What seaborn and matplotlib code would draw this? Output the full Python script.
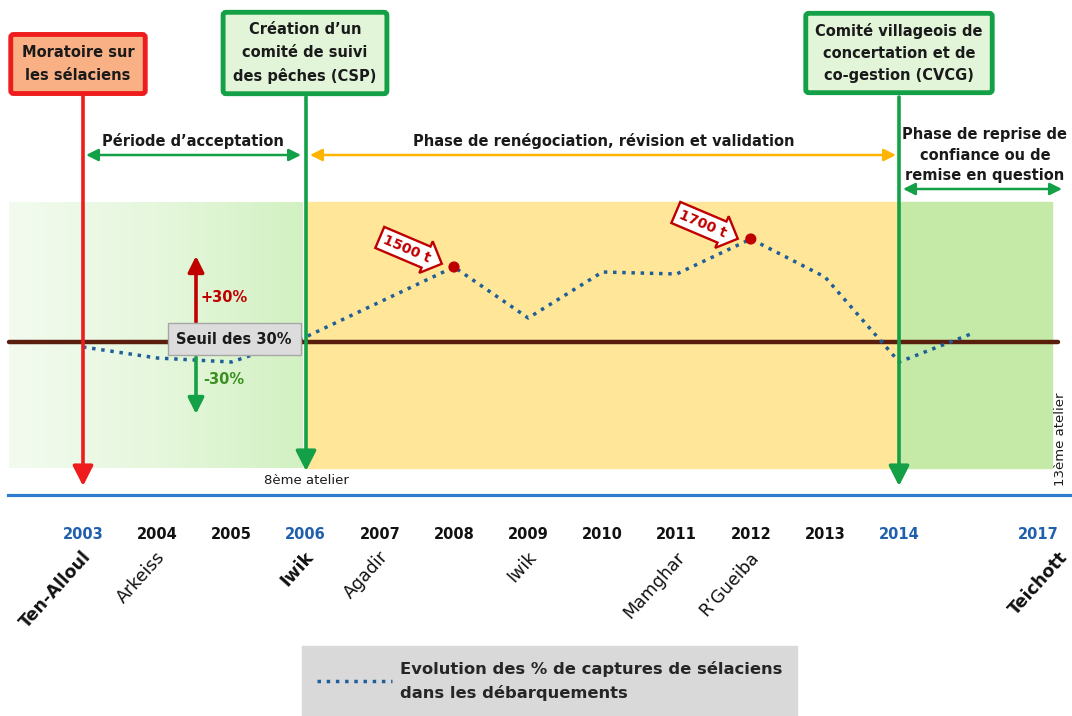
import numpy as np
import pandas as pd
import seaborn as sns
import matplotlib.pyplot as plt
import matplotlib.transforms as mtransforms
from matplotlib.patches import Rectangle
from matplotlib.colors import LinearSegmentedColormap

sns.set_style("white")
plt.rcParams["font.family"] = "DejaVu Sans"

# Share of sharks/rays in landings, % deviation from the reference
years = [2003, 2004, 2005, 2006, 2008, 2009, 2010, 2011, 2012, 2013, 2014, 2015]
catch_pct = [-2.5, -8, -10, 2.5, 37.5, 12, 35, 34, 51.5, 32.5, -10, 4.5]
threshold = 0

# Peaks annotated with tonnages
peak_years = [2008, 2012]
peak_labels = ["1500 t", "1700 t"]

# Timeline
tick_years = [2003, 2004, 2005, 2006, 2007, 2008, 2009, 2010, 2011, 2012, 2013, 2014, 2017]
milestone_years = [2003, 2006, 2014, 2017]

# Workshop sites
site_years = [2003, 2004, 2006, 2007, 2009, 2011, 2012, 2017]
site_names = ["Ten-Alloul", "Arkeiss", "Iwik", "Agadir", "Iwik", "Mamghar", "R\u2019Gueiba", "Teichott"]
site_bold = [True, False, True, False, False, False, False, True]

legend_label = "Evolution des % de captures de sélaciens\ndans les débarquements"

RED = "#EE1C1C"
DARKRED = "#C00000"
GREEN = "#14A046"
ORANGE = "#FFB400"
BLUE = "#2E7BD0"
DARKBLUE = "#1F5FAE"
LINE = "#1F5F99"


def xpos(y):
    # 2015-2017 is drawn compressed on the timeline
    y = np.asarray(y, dtype=float)
    return np.where(y <= 2015, y, 2015 + (y - 2015) * 0.577)


W, H = 1072, 716
fig = plt.figure(figsize=(W / 100, H / 100), dpi=100)
ax = fig.add_axes([0, 0, 1, 1])
# pixel coordinates for layout elements (origin top-left)
px = mtransforms.Affine2D().scale(1 / W, -1 / H).translate(0, 1) + fig.transFigure
blend = mtransforms.blended_transform_factory(ax.transData, px)

# background periods
grad = np.linspace(0, 1, 256).reshape(1, -1)
gcmap = LinearSegmentedColormap.from_list("g", ["#F3FBF0", "#E6F7DD", "#D2F1C2"])
ax.imshow(grad, cmap=gcmap, extent=[9, 303, 468, 202], transform=px, aspect="auto", zorder=0)
ax.add_patch(Rectangle((306, 202), 593, 266, transform=px, color="#FFE699", zorder=0))
ax.add_patch(Rectangle((899, 202), 153, 266, transform=px, color="#C5EAA7", zorder=0))

# threshold
ax.axhline(threshold, xmin=9 / W, xmax=1058 / W, color="#5A1E0C", lw=3.2, zorder=2)

# series
df = pd.DataFrame({"pos": xpos(years), "pct": catch_pct})
sns.lineplot(data=df, x="pos", y="pct", ax=ax, color=LINE, lw=2.5, ls=":",
             label=legend_label, zorder=4)
peaks = df.set_index(pd.Index(years)).loc[peak_years]
sns.scatterplot(data=peaks, x="pos", y="pct", ax=ax, color=DARKRED, s=65,
                edgecolor="none", legend=False, zorder=6)

# callouts for tonnages
for lab, (cx, cy) in zip(peak_labels, [(407, 249), (703, 224)]):
    ax.text(cx, cy, lab, transform=px, rotation=-23, ha="center", va="center",
            fontsize=10, fontweight="bold", color=DARKRED, zorder=7,
            bbox=dict(boxstyle="rarrow,pad=0.32", fc="white", ec=DARKRED, lw=1.7))

# milestone boxes and vertical lines
box_kw = dict(transform=px, ha="center", va="center", fontsize=10.5, fontweight="bold",
              color="#1A1A1A", linespacing=1.6, zorder=8)
ax.text(78, 64, "Moratoire sur\nles sélaciens",
        bbox=dict(boxstyle="round,pad=0.75,rounding_size=0.2", fc="#F8B084", ec=RED, lw=3.5), **box_kw)
ax.text(305, 53, "Création d\u2019un\ncomité de suivi\ndes pêches (CSP)",
        bbox=dict(boxstyle="round,pad=0.7,rounding_size=0.2", fc="#E2F5D9", ec=GREEN, lw=3.5), **box_kw)
ax.text(899, 53, "Comité villageois de\nconcertation et de\nco-gestion (CVCG)",
        bbox=dict(boxstyle="round,pad=0.65,rounding_size=0.2", fc="#E2F5D9", ec=GREEN, lw=3.5), **box_kw)

vkw = dict(xycoords=px, textcoords=px)
for x0, y0, y1, col in [(83, 95, 486, RED), (306, 97, 471, GREEN), (899, 97, 486, GREEN)]:
    ax.annotate("", xy=(x0, y1), xytext=(x0, y0), zorder=5,
                arrowprops=dict(arrowstyle="-|>,head_length=0.55,head_width=0.28", mutation_scale=22,
                                color=col, lw=2.6, shrinkA=0, shrinkB=0), **vkw)

# phases
akw = dict(arrowstyle="<|-|>,head_length=0.6,head_width=0.3", mutation_scale=12, lw=1.8,
           shrinkA=0, shrinkB=0)
ax.annotate("", xy=(86, 155), xytext=(301, 155), arrowprops=dict(color=GREEN, **akw), **vkw)
ax.annotate("", xy=(310, 155), xytext=(896, 155), arrowprops=dict(color=ORANGE, **akw), **vkw)
ax.annotate("", xy=(903, 189), xytext=(1062, 189), arrowprops=dict(color=GREEN, **akw), **vkw)
tkw = dict(transform=px, ha="center", va="center", fontsize=10.5, fontweight="bold", color="#1A1A1A")
ax.text(193, 141, "Période d\u2019acceptation", **tkw)
ax.text(604, 141, "Phase de renégociation, révision et validation", **tkw)
ax.text(985, 155, "Phase de reprise de\nconfiance ou de\nremise en question", linespacing=1.45, **tkw)

# threshold legend
ax.text(234, 339, "Seuil des 30%", transform=px, ha="center", va="center", fontsize=10.5,
        fontweight="bold", color="#1A1A1A", zorder=8,
        bbox=dict(boxstyle="square,pad=0.6", fc="#DCDCDC", ec="#A6A6A6", lw=1))
ax.annotate("", xy=(196, 256), xytext=(196, 322), zorder=6,
            arrowprops=dict(arrowstyle="-|>,head_length=0.6,head_width=0.3", mutation_scale=16,
                            color=DARKRED, lw=2.6, shrinkA=0, shrinkB=0), **vkw)
ax.annotate("", xy=(196, 414), xytext=(196, 357), zorder=6,
            arrowprops=dict(arrowstyle="-|>,head_length=0.6,head_width=0.3", mutation_scale=16,
                            color=GREEN, lw=2.6, shrinkA=0, shrinkB=0), **vkw)
ax.text(200, 298, "+30%", transform=px, ha="left", va="center", fontsize=10.5,
        fontweight="bold", color=DARKRED)
ax.text(203, 380, "-30%", transform=px, ha="left", va="center", fontsize=10.5,
        fontweight="bold", color="#3A9020")

ax.text(306, 480, "8ème atelier", transform=px, ha="center", va="center", fontsize=9.5, color="#1A1A1A")
ax.text(1061, 486, "13ème atelier", transform=px, rotation=90, rotation_mode="anchor",
        ha="left", va="center", fontsize=9.5, color="#1A1A1A")

# timeline axis
xlim = (2003 - 83 / 74.2, 2003 + (W - 83) / 74.2)
ylim = (-(H - 342) / 2, 342 / 2)
ax.set_xlim(xlim)
ax.set_ylim(ylim)
for s in ["top", "left", "right"]:
    ax.spines[s].set_visible(False)
ax.spines["bottom"].set_position(("data", -(495 - 342) / 2))
ax.spines["bottom"].set_color(BLUE)
ax.spines["bottom"].set_linewidth(2.3)
ax.spines["bottom"].set_bounds(2003 - 75 / 74.2, xlim[1])
ax.set_xticks(xpos(tick_years))
ax.set_xticklabels([str(y) for y in tick_years], fontweight="bold", fontsize=10.5)
for lab, yr in zip(ax.get_xticklabels(), tick_years):
    lab.set_color(DARKBLUE if yr in milestone_years else "#111111")
    if yr == tick_years[-1]:
        lab.set_horizontalalignment("right")
ax.tick_params(axis="x", direction="out", length=12, width=2.2, color=BLUE, pad=11)
ax.set_yticks([])
ax.set_xlabel("")
ax.set_ylabel("")

for yr, name, bold in zip(site_years, site_names, site_bold):
    ax.text(float(xpos(yr)) - 0.02, 548, name, transform=blend, rotation=48, rotation_mode="anchor",
            ha="right", va="top", fontsize=12.5, fontweight="bold" if bold else "normal",
            color="#111111")

leg = ax.legend(loc="lower left", bbox_to_anchor=(302 / W, 0), bbox_transform=fig.transFigure,
                borderaxespad=0, frameon=True, fancybox=False, facecolor="#D9D9D9", edgecolor="#D9D9D9",
                framealpha=1, prop=dict(weight="bold", size=11.8), handlelength=4.6, borderpad=0.9,
                handletextpad=0.45)
leg.get_texts()[0].set_linespacing(1.65)

fig.savefig("out.png", dpi=100)
